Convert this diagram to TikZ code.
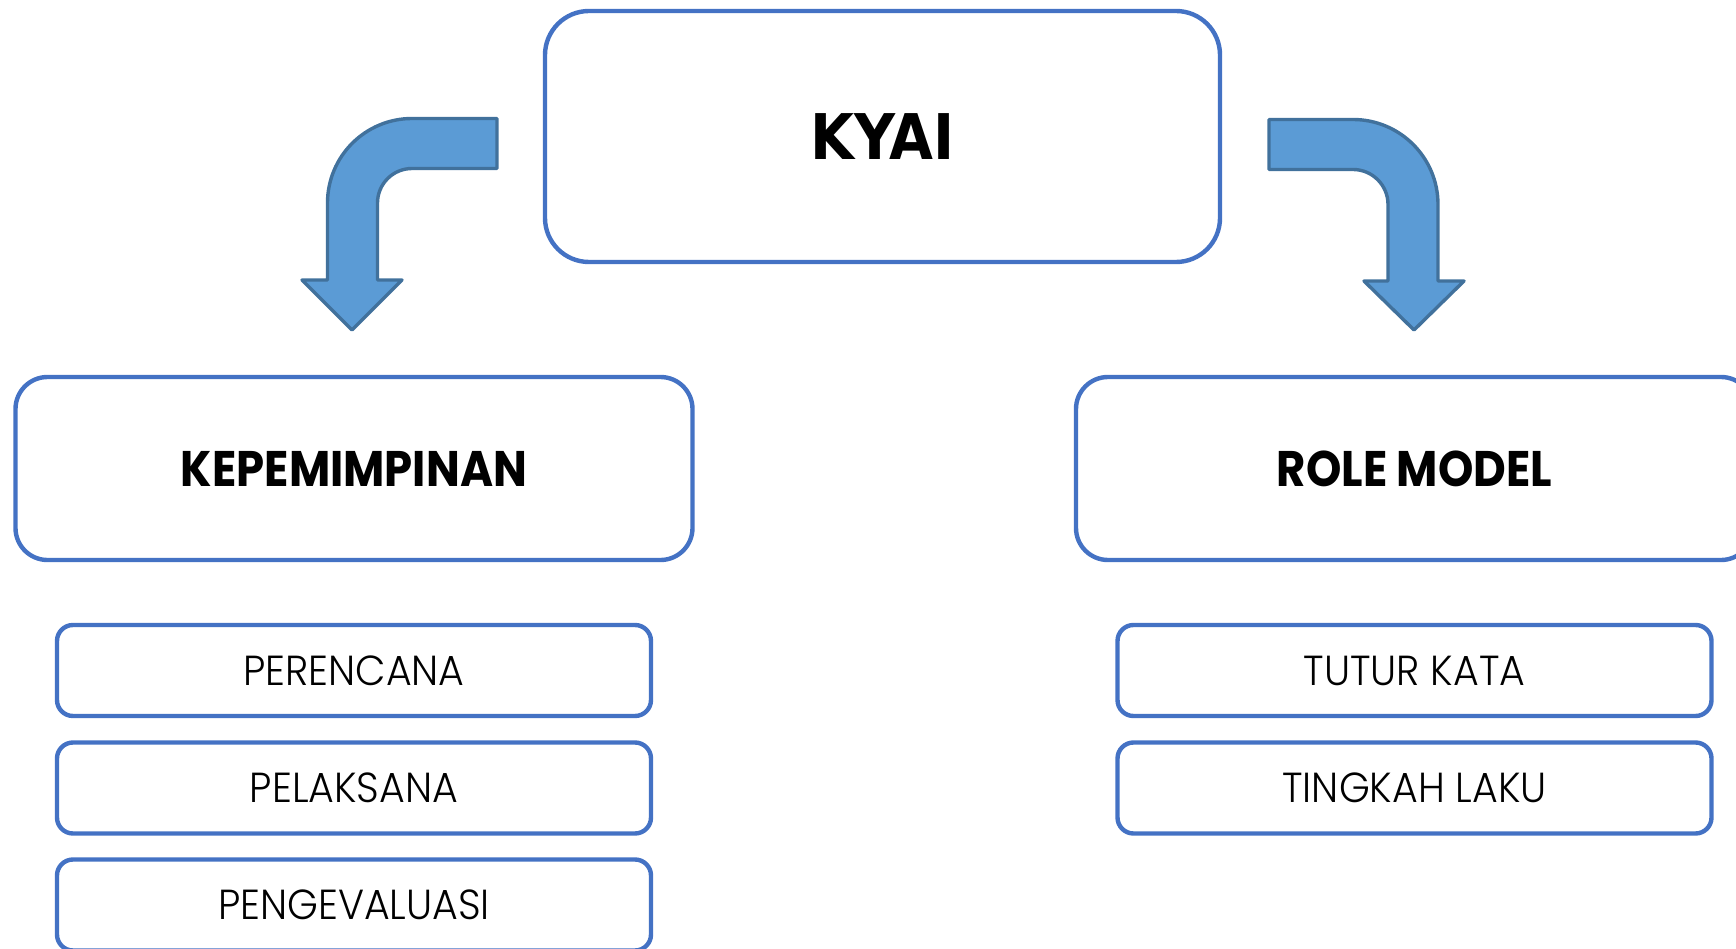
\documentclass[tikz,border=0pt]{standalone}
\usepackage{fontspec}
\newfontfamily\kyaifont{DejaVu Sans Condensed}
\newfontfamily\headfont[FakeStretch=0.9]{Poppins}
\newfontfamily\itemfont[FakeStretch=0.94]{Poppins Light}
\definecolor{boxblue}{HTML}{4472C4}
\definecolor{arrowfill}{HTML}{5B9BD5}
\definecolor{arrowline}{HTML}{41719C}
\tikzset{
  bigbox/.style={draw=boxblue, line width=4.4pt, rounded corners=32pt, fill=white, inner sep=0pt},
  smallbox/.style={draw=boxblue, line width=4.4pt, rounded corners=16pt, fill=white, inner sep=0pt,
    minimum width=594pt, minimum height=91pt, font=\itemfont\fontsize{42}{50}\selectfont},
  headtext/.style={font=\headfont\bfseries\fontsize{50}{60}\selectfont},
  bentarrow/.style={fill=arrowfill, draw=arrowline, line width=3.4pt, line join=round}
}
\begin{document}
\begin{tikzpicture}[x=1pt,y=-1pt]
\useasboundingbox (0,0) rectangle (1736,949);
\clip (0,0) rectangle (1736,949);
% top box
\node[bigbox, rounded corners=44pt, minimum width=675pt, minimum height=251pt,
  font=\kyaifont\bfseries\fontsize{63}{70}\selectfont] (kyai) at (882.5,136.5) {KYAI};
% second level
\node[bigbox, minimum width=677pt, minimum height=183pt, headtext] (lead) at (354,468.5) {KEPEMIMPINAN};
\node[bigbox, minimum width=677pt, minimum height=183pt, headtext] (role) at (1414.5,468.5) {ROLE MODEL};
% items
\node[smallbox] (p1) at (354,670.5) {PERENCANA};
\node[smallbox] (p2) at (354,788) {PELAKSANA};
\node[smallbox] (p3) at (354,905) {PENGEVALUASI};
\node[smallbox] (r1) at (1414.5,670.5) {TUTUR KATA};
\node[smallbox] (r2) at (1414.5,788) {TINGKAH LAKU};
% bent arrows
\draw[bentarrow] (497,118.5) -- (412,118.5) arc[start angle=90,end angle=180,radius=84.5pt]
  -- (327.5,280) -- (302,280) -- (352,330) -- (402,280) -- (377.5,280) -- (377.5,203)
  arc[start angle=180,end angle=90,radius=34.5pt] -- (497,168.5) -- cycle;
\draw[bentarrow] (1269,119.5) -- (1353,119.5) arc[start angle=90,end angle=0,radius=85pt]
  -- (1438,281) -- (1464,281) -- (1414,330) -- (1364,281) -- (1388,281) -- (1388,204.5)
  arc[start angle=0,end angle=90,radius=35pt] -- (1269,169.5) -- cycle;
\end{tikzpicture}
\end{document}
